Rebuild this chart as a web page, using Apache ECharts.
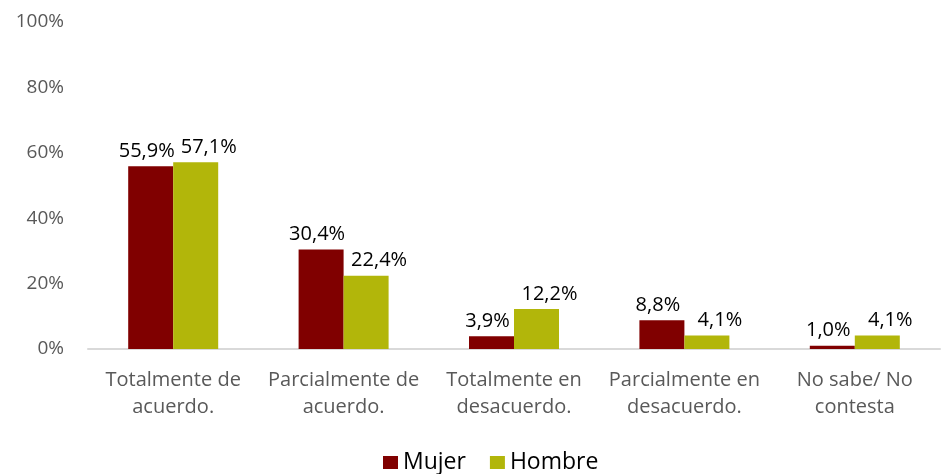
<!DOCTYPE html>
<html>
<head>
    <meta charset="utf-8">
    <title>Mujer / Hombre</title>
    <script src="https://cdn.jsdelivr.net/npm/echarts@6/dist/echarts.min.js"></script>
</head>
<body style="margin:0">
    <div id="main" style="width: 941px;height:474px;"></div>
    <script type="text/javascript">
        // datos
        var categorias = ['Totalmente de\nacuerdo.', 'Parcialmente de\nacuerdo.', 'Totalmente en\ndesacuerdo.', 'Parcialmente en\ndesacuerdo.', 'No sabe/ No\ncontesta'];
        var mujer = [55.9, 30.4, 3.9, 8.8, 1.0];
        var hombre = [57.1, 22.4, 12.2, 4.1, 4.1];
        var nombres = ['Mujer', 'Hombre'];

        var myChart = echarts.init(document.getElementById('main'));

        function etiqueta(p) {
            return p.value.toFixed(1).replace('.', ',') + '%';
        }

        function labelStyle(dx) {
            return {
                show: true,
                position: 'top',
                distance: 5,
                offset: [dx, 0],
                color: '#000',
                fontSize: 20,
                fontFamily: 'Open Sans',
                formatter: etiqueta
            };
        }

        option = {
            animation: false,
            grid: {
                left: 88,
                right: 1,
                top: 22,
                bottom: 125
            },
            legend: {
                data: nombres,
                top: 451,
                left: 383,
                icon: 'rect',
                itemWidth: 15,
                itemHeight: 13,
                itemGap: 24,
                itemTextGap: 7,
                padding: 0,
                textStyle: { fontSize: 23, color: '#000', fontFamily: 'Open Sans' }
            },
            xAxis: {
                type: 'category',
                data: categorias,
                axisLine: { lineStyle: { color: '#d9d9d9', width: 2 } },
                axisTick: { show: false },
                axisLabel: {
                    color: '#595959',
                    fontSize: 20,
                    lineHeight: 27,
                    margin: 18,
                    fontFamily: 'Open Sans',
                    interval: 0
                }
            },
            yAxis: {
                type: 'value',
                min: 0,
                max: 100,
                interval: 20,
                splitLine: { show: false },
                axisLabel: {
                    color: '#595959',
                    fontSize: 19,
                    margin: 24,
                    fontFamily: 'Open Sans',
                    formatter: '{value}%'
                }
            },
            series: [{
                name: nombres[0],
                type: 'bar',
                data: mujer,
                barWidth: 45,
                barGap: '0%',
                itemStyle: { color: '#800000' },
                label: labelStyle(-4)
            }, {
                name: nombres[1],
                type: 'bar',
                data: hombre,
                barWidth: 45,
                itemStyle: { color: '#b2b60a' },
                label: labelStyle(13)
            }]
        };

        myChart.setOption(option);
    </script>
</body>
</html>
